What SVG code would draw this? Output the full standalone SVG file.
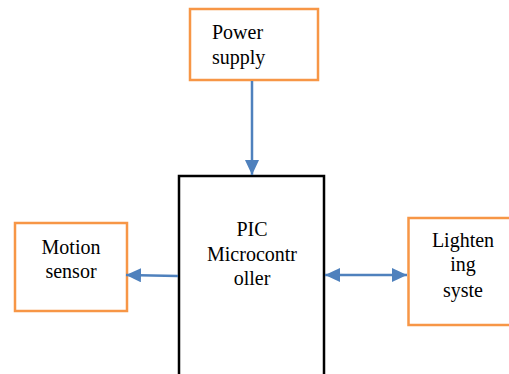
<svg xmlns="http://www.w3.org/2000/svg" width="509" height="374" viewBox="0 0 509 374">
<defs>
<style>
.ob{fill:#fff;stroke:#F79646;stroke-width:2.5}
.bb{fill:#fff;stroke:#000;stroke-width:2.5}
.t{font-family:"Times New Roman","Liberation Serif",Tinos,"DejaVu Serif","Noto Serif",serif;font-size:20px;fill:#000;text-anchor:middle}
.s{text-anchor:start}
.c{stroke:#4F81BD;stroke-width:2.5;fill:none}
</style>
<marker id="ah" viewBox="0 0 15 14" refX="15" refY="7" markerWidth="15" markerHeight="14" orient="auto-start-reverse" markerUnits="userSpaceOnUse">
<path d="M0,0 L15,7 L0,14 z" fill="#4F81BD"/>
</marker>
</defs>
<g id="power">
<rect class="ob" x="190" y="9" width="128" height="71"/>
<text class="t s" x="212" y="39">Power</text>
<text class="t s" x="212" y="64">supply</text>
</g>
<g id="pic">
<rect class="bb" x="179" y="176" width="145" height="210"/>
<text class="t" x="252" y="236">PIC</text>
<text class="t" x="252" y="261">Microcontr</text>
<text class="t" x="252" y="285">oller</text>
</g>
<g id="motion">
<rect class="ob" x="15" y="223" width="112" height="88"/>
<text class="t" x="71" y="254">Motion</text>
<text class="t" x="71" y="278">sensor</text>
</g>
<g id="light">
<rect class="ob" x="408.5" y="218" width="110" height="107"/>
<text class="t" x="463" y="247">Lighten</text>
<text class="t" x="463" y="271">ing</text>
<text class="t" x="463" y="297">syste</text>
</g>
<g id="connectors">
<line class="c" x1="252" y1="81" x2="252" y2="175" marker-end="url(#ah)"/>
<line class="c" x1="178" y1="276" x2="126" y2="275" marker-end="url(#ah)"/>
<line class="c" x1="325" y1="275" x2="407" y2="275" marker-start="url(#ah)" marker-end="url(#ah)"/>
</g>
</svg>
